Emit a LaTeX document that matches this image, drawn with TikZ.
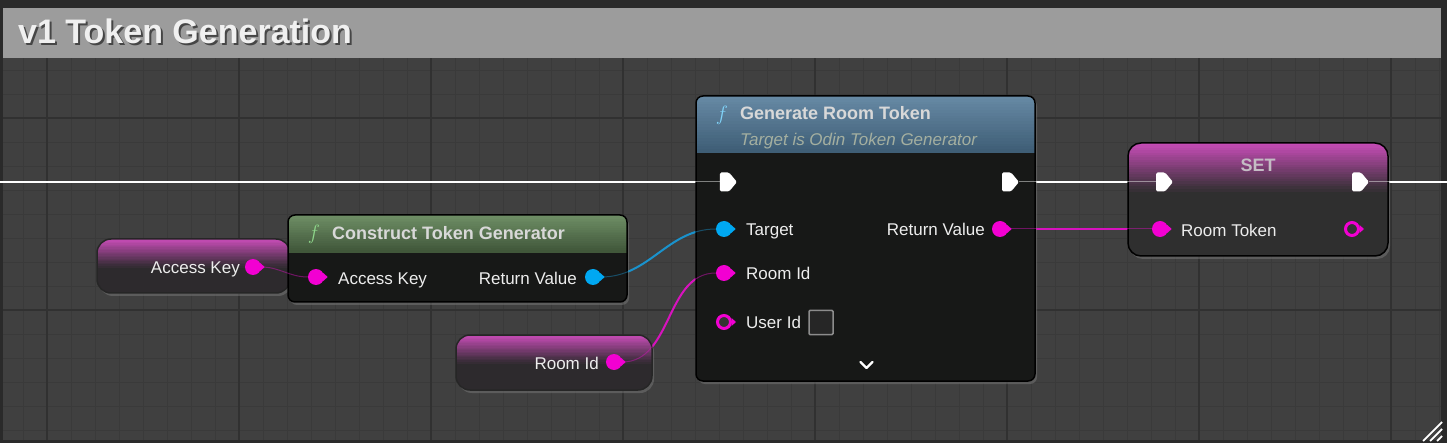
\documentclass[tikz,border=0pt]{standalone}
\usepackage{fontspec}
\setmainfont{Liberation Sans}
\usetikzlibrary{calc,shadows,shapes.symbols}

\definecolor{frame}{HTML}{2A2A2A}
\definecolor{canvas}{HTML}{404040}
\definecolor{gridminor}{HTML}{3A3A3A}
\definecolor{gridmajor}{HTML}{313131}
\definecolor{titlebar}{HTML}{9C9C9C}
\definecolor{titletext}{HTML}{F0F0F0}
\definecolor{pinpink}{HTML}{F200D2}
\definecolor{pinblue}{HTML}{00A8F2}
\definecolor{wirepink}{HTML}{D812BE}
\definecolor{wireblue}{HTML}{1A92CC}
\definecolor{nodebody}{HTML}{171817}
\definecolor{setbody}{HTML}{2F2F2F}
\definecolor{varbody}{HTML}{2D2A2D}
\definecolor{varglow}{HTML}{C64CB6}
\definecolor{hdgreen}{HTML}{6E8E65}
\definecolor{hdgreendark}{HTML}{3E5438}
\definecolor{hdblue}{HTML}{6689A4}
\definecolor{hdbluedark}{HTML}{3D5C74}
\definecolor{labeltext}{HTML}{EDEDED}
\definecolor{headtext}{HTML}{D8D8D8}
\definecolor{subtext}{HTML}{A4AFA0}
\definecolor{settext}{HTML}{C4BCC4}

\pgfdeclarelayer{bg}
\pgfdeclarelayer{wires}
\pgfdeclarelayer{over}
\pgfdeclarelayer{pins}
\pgfsetlayers{bg,wires,main,over,pins}

% vertical fade in strips: top colour, bottom colour, band height
\newcommand{\bandfade}[3]{%
  \foreach \i in {0,...,19} {
    \pgfmathsetmacro\pc{int(100-5*\i)}
    \fill[sharp corners, #1!\pc!#2] ([yshift=-\i*#3/20]path picture bounding box.north west)
      rectangle ([yshift=-(\i+1)*#3/20-0.6pt]path picture bounding box.north east);}}

\tikzset{
  lbl/.style={text=labeltext, inner sep=0pt, text height=12.4pt, text depth=0pt,
    font=\fontsize{17}{20}\selectfont},
  headlbl/.style={text=headtext, inner sep=0pt, text height=13pt, text depth=0pt,
    font=\bfseries\fontsize{18}{22}\selectfont},
  sublbl/.style={text=subtext, inner sep=0pt, text height=12.4pt, text depth=0pt,
    font=\itshape\fontsize{17}{20}\selectfont},
  fglyph/.style={inner sep=0pt, font=\fontsize{21}{24}\selectfont},
  datapin/.style={circle, inner sep=0pt, minimum size=16pt},
  execpin/.style={signal, signal to=east, signal pointer angle=100, fill=white,
    rounded corners=1.5pt, inner sep=0pt, minimum width=17pt, minimum height=19pt},
  shadowed/.style={drop shadow={shadow xshift=2pt, shadow yshift=-3pt, opacity=.45}},
  funcnode/.style={draw=black, line width=1.5pt, rounded corners=7pt, fill=nodebody,
    inner sep=0pt, shadowed},
  glow/.style 2 args={path picture={\bandfade{varglow}{#1}{#2}}},
  varnode/.style={draw=black!85, line width=1.5pt, rounded corners=14pt, fill=varbody,
    inner sep=0pt, shadowed, glow={varbody}{28pt}},
  header/.style n args={3}{path picture={\bandfade{#1}{#2}{#3}}},
  wire/.style={line width=2pt},
  execwire/.style={white, line width=2.4pt},
  faint/.style={line width=1pt, opacity=.45},
}

% data pin: name, position, colour
\newcommand{\datapin}[3]{%
  \node[datapin, fill=#3] (#1) at (#2) {};
  \fill[#3] ($(#1.east)+(-1,-4)$) -- ($(#1.east)+(3.5,0)$) -- ($(#1.east)+(-1,4)$) -- cycle;}
% unconnected data pin (ring)
\newcommand{\openpin}[3]{%
  \node[datapin, fill=black!80, draw=#3, line width=3pt, minimum size=13pt] (#1) at (#2) {};
  \fill[#3] ($(#1.east)+(-0.5,-4)$) -- ($(#1.east)+(4,0)$) -- ($(#1.east)+(-0.5,4)$) -- cycle;}

\begin{document}
\begin{tikzpicture}[x=1pt, y=-1pt]
\useasboundingbox (0,0) rectangle (1447,443);

% canvas and grid
\begin{pgfonlayer}{bg}
  \fill[frame] (0,0) rectangle (1447,443);
  \fill[canvas] (3,8) rectangle (1441,440);
  \begin{scope}
    \clip (3,58) rectangle (1441,440);
    \foreach \x in {-1,23,...,1447} \draw[gridminor, line width=.8pt] (\x,58) -- (\x,440);
    \foreach \y in {70,94,...,443} \draw[gridminor, line width=.8pt] (3,\y) -- (1441,\y);
    \foreach \x in {47,239,...,1447} \draw[gridmajor, line width=1.2pt] (\x,58) -- (\x,440);
    \foreach \y in {118,310} \draw[gridmajor, line width=1.2pt] (3,\y) -- (1441,\y);
  \end{scope}
  \fill[titlebar] (3,8) rectangle (1441,58);
  \node[anchor=west, inner sep=0pt, text=black, opacity=.55, text height=25pt, text depth=0pt,
    font=\bfseries\fontsize{34}{40}\selectfont] at (20,33.5) {v1 Token Generation};
  \node[anchor=west, inner sep=0pt, text=titletext, text height=25pt, text depth=0pt,
    font=\bfseries\fontsize{34}{40}\selectfont] (title) at (18,31.5) {v1 Token Generation};
  % resize grip
  \draw[white, line width=1.8pt] (1423,441) -- (1442,422);
  \draw[white, line width=1.8pt] (1430,441) -- (1442,429);
  \draw[white, line width=1.8pt] (1437,441) -- (1442,436);
\end{pgfonlayer}

% node bodies
\node[varnode, minimum width=193pt, minimum height=54pt] (akvar) at (193.5,266) {};
\node[funcnode, header={hdgreen}{hdgreendark}{37pt}, minimum width=339pt, minimum height=87pt] (ctg) at (457.5,258.5) {};
\node[varnode, minimum width=196pt, minimum height=55pt] (ridvar) at (554,362.5) {};
\node[funcnode, header={hdblue}{hdbluedark}{56pt}, minimum width=339pt, minimum height=285pt] (grt) at (865.5,238.5) {};
\node[funcnode, fill=setbody, rounded corners=13pt, minimum width=260pt, minimum height=113pt,
  glow={setbody}{48pt}] (setnode) at (1258,199.5) {};

% texts
\node[lbl, anchor=east] (akvar-txt) at (240,267) {Access Key};
\node[fglyph, text=hdgreen!60!green!60!white] (ctg-f) at (314,234) {$f$};
\node[headlbl, anchor=west] (ctg-title) at (332,233) {Construct Token Generator};
\node[lbl, anchor=west] (ctg-ak-txt) at (338,278) {Access Key};
\node[lbl, anchor=east] (ctg-ret-txt) at (577,278) {Return Value};
\node[lbl, anchor=east] (ridvar-txt) at (599,363) {Room Id};
\node[fglyph, text=pinblue!50!white] (grt-f) at (722,115) {$f$};
\node[headlbl, anchor=west] (grt-title) at (740,113) {Generate Room Token};
\node[sublbl, anchor=west] (grt-sub) at (740,139) {Target is Odin Token Generator};
\node[lbl, anchor=west] (grt-target-txt) at (746,229) {Target};
\node[lbl, anchor=east] (grt-ret-txt) at (985,229) {Return Value};
\node[lbl, anchor=west] (grt-rid-txt) at (746,273) {Room Id};
\node[lbl, anchor=west] (grt-uid-txt) at (746,322) {User Id};
\node[draw=black!45, line width=1.5pt, fill=black!85, rounded corners=1pt, minimum size=24pt] (uid-box) at (821,322.5) {};
\draw[white, line width=2.4pt, line cap=round, line join=round] (860.5,362) -- (866.5,368) -- (872.5,362);
\node[headlbl, text=settext, anchor=center] (set-title) at (1258,165) {SET};
\node[lbl, anchor=west] (set-rt-txt) at (1181,230) {Room Token};

% pins
\begin{pgfonlayer}{pins}
  \datapin{akvar-out}{253,267}{pinpink}
  \datapin{ctg-ak}{316,277}{pinpink}
  \datapin{ctg-ret}{593,277}{pinblue}
  \datapin{ridvar-out}{614,362}{pinpink}
  \node[execpin] (grt-in) at (724.5,182) {};
  \node[execpin] (grt-out) at (1006.5,182) {};
  \datapin{grt-target}{724,229}{pinblue}
  \datapin{grt-ret}{1000,229}{pinpink}
  \datapin{grt-rid}{724,273}{pinpink}
  \openpin{grt-uid}{724,322}{pinpink}
  \node[execpin] (set-in) at (1160.5,182) {};
  \node[execpin] (set-out) at (1356.5,182) {};
  \datapin{set-rt}{1160,229}{pinpink}
  \openpin{set-val}{1352,229}{pinpink}
\end{pgfonlayer}
\coordinate (exec-start) at (0,182);
\coordinate (exec-end) at (1447,182);

% connectors
\begin{pgfonlayer}{wires}
  \draw[execwire] (exec-start) -- (grt-in.west);
  \draw[execwire] (grt-out.east) -- (set-in.west);
  \draw[execwire] (set-out.east) -- (exec-end);
  \draw[wire, wirepink] (akvar-out.east) to[out=0, in=180] (ctg-ak.west);
  \draw[wire, wireblue] (ctg-ret.east) to[out=0, in=180] (grt-target.west);
  \draw[wire, wirepink] (ridvar-out.east) to[out=0, in=180] (grt-rid.west);
  \draw[wire, wirepink] (grt-ret.east) -- (set-rt.west);
\end{pgfonlayer}
\begin{pgfonlayer}{over}
  \draw[faint, white] (exec-start) -- (grt-in.west);
  \draw[faint, white] (grt-out.east) -- (set-in.west);
  \draw[faint, white] (set-out.east) -- (exec-end);
  \draw[faint, wirepink] (akvar-out.east) to[out=0, in=180] (ctg-ak.west);
  \draw[faint, wireblue] (ctg-ret.east) to[out=0, in=180] (grt-target.west);
  \draw[faint, wirepink] (ridvar-out.east) to[out=0, in=180] (grt-rid.west);
  \draw[faint, wirepink] (grt-ret.east) -- (set-rt.west);
\end{pgfonlayer}

\end{tikzpicture}
\end{document}
